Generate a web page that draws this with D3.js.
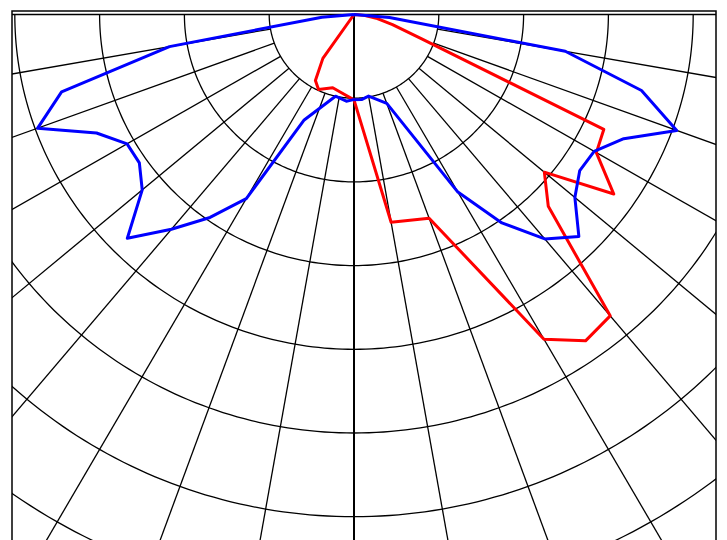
<!DOCTYPE html>
<html>
<head>
<meta charset="utf-8">
<script src="https://d3js.org/d3.v7.min.js"></script>
<style>
  body { margin: 0; background: #fff; }
  svg { display: block; }
</style>
</head>
<body>
<script>
// polar grid: rings every 100 units, spokes every 10 degrees (0 = straight down)
const ringValues = [100, 200, 300, 400, 500, 600, 700, 800];
const spokeAngles = [-90, -80, -70, -60, -50, -40, -30, -20, -10, 10, 20, 30, 40, 50, 60, 70, 80, 90];

// blue curve (angle in degrees, value)
const blueAngles = [-90, -85, -80, -75, -70, -65, -60, -55, -50, -45, -40, -35, -30, -25, -12.6, -5, -1, 5, 10, 20, 30, 35, 40, 45, 50, 55, 60, 65, 70, 75, 80, 85, 90];
const blueValues = [0, 38, 221, 357, 397, 335, 309, 309, 326, 378, 335, 296, 254, 139, 100, 104, 102, 102, 99, 113, 245, 304, 350, 375, 340, 325, 327, 351, 405, 351, 253, 42, 0];

// red curve
const redAngles = [-90, -40, -35, -30, -25, -16, -10, 0, 10, 20, 30, 35, 40, 45, 50, 55, 60, 65, 70, 75, 80, 85, 90];
const redValues = [0, 0, 64, 91, 99, 91, 94, 102, 252, 259, 448, 476, 470, 324, 293, 374, 330, 325, 85, 47, 28, 12, 0];

let W = 727, H = 540;
let cx = 354, cy = 14.5;
let frame = {x0: 12, y0: 11, x1: 716, y1: 560};

// slightly different pixel size per unit horizontally and vertically
let rx = d3.scaleLinear().domain([0, 100]).range([0, 84.8]);
let ry = d3.scaleLinear().domain([0, 100]).range([0, 83.7]);

const rad = a => a * Math.PI / 180;
const px = (a, v) => cx + rx(v) * Math.sin(rad(a));
const py = (a, v) => cy + ry(v) * Math.cos(rad(a));

let svg = d3.select("body").append("svg")
    .attr("width", W)
    .attr("height", H);

svg.append("defs").append("clipPath").attr("id", "plotclip")
  .append("rect")
    .attr("x", frame.x0).attr("y", frame.y0)
    .attr("width", frame.x1 - frame.x0)
    .attr("height", frame.y1 - frame.y0);

let grid = svg.append("g").attr("clip-path", "url(#plotclip)");

// rings (lower half only)
let arcLine = d3.line().x(d => px(d[0], d[1])).y(d => py(d[0], d[1]));
let arcSteps = d3.range(-90, 90.5, 1);
grid.selectAll("path.ring")
  .data(ringValues)
  .join("path")
    .attr("class", "ring")
    .attr("d", v => arcLine(arcSteps.map(a => [a, v])))
    .attr("fill", "none")
    .attr("stroke", "#000")
    .attr("stroke-width", 1.3);

// spokes start at first ring, the horizontal ones at the centre
grid.selectAll("line.spoke")
  .data(spokeAngles)
  .join("line")
    .attr("class", "spoke")
    .attr("x1", a => px(a, Math.abs(a) === 90 ? 0 : ringValues[0]))
    .attr("y1", a => py(a, Math.abs(a) === 90 ? 0 : ringValues[0]))
    .attr("x2", a => px(a, 1000))
    .attr("y2", a => py(a, 1000))
    .attr("stroke", "#000")
    .attr("stroke-width", 1.3);

// 0 degree axis, from centre
grid.append("line")
    .attr("x1", px(0, 0)).attr("y1", py(0, 0))
    .attr("x2", px(0, 1000)).attr("y2", py(0, 1000))
    .attr("stroke", "#000")
    .attr("stroke-width", 2);

// curves
let curve = d3.line().x(d => px(d.a, d.v)).y(d => py(d.a, d.v));
let series = [
  {color: "#ff0000", pts: redAngles.map((a, i) => ({a: a, v: redValues[i]}))},
  {color: "#0000ff", pts: blueAngles.map((a, i) => ({a: a, v: blueValues[i]}))}
];
svg.append("g").attr("clip-path", "url(#plotclip)")
  .selectAll("path")
  .data(series)
  .join("path")
    .attr("d", d => curve(d.pts))
    .attr("fill", "none")
    .attr("stroke", d => d.color)
    .attr("stroke-width", 3)
    .attr("stroke-linejoin", "round");

// frame
svg.append("rect")
    .attr("x", frame.x0).attr("y", frame.y0)
    .attr("width", frame.x1 - frame.x0)
    .attr("height", frame.y1 - frame.y0)
    .attr("fill", "none")
    .attr("stroke", "#000")
    .attr("stroke-width", 1.5);
</script>
</body>
</html>
